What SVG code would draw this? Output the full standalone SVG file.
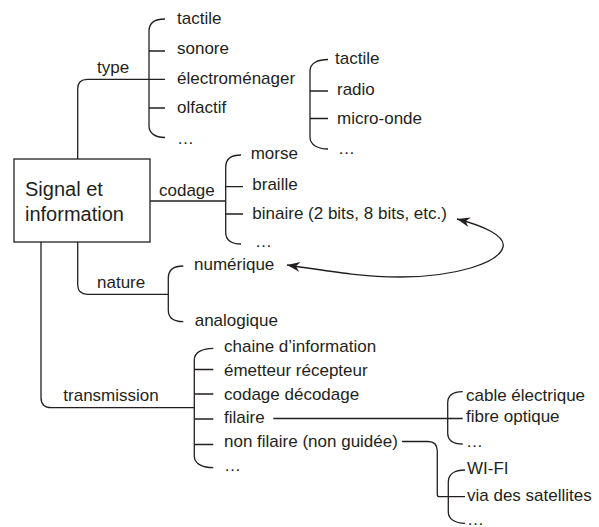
<svg xmlns="http://www.w3.org/2000/svg" width="599" height="527" viewBox="0 0 599 527">
  <style>
    text { font-family: "Liberation Sans", Arial, sans-serif; font-size: 17px; fill: #231f20; }
    .title { font-size: 20px; }
    .ln { fill: none; stroke: #231f20; stroke-width: 1.3; }
    .box { fill: #ffffff; stroke: #231f20; stroke-width: 1.3; }
  </style>
  <defs>
    <marker id="stealth" viewBox="-14 -6 15 12" refX="0" refY="0" markerWidth="15" markerHeight="12" markerUnits="userSpaceOnUse" orient="auto-start-reverse">
      <path d="M0,0 L-13,-5 L-9,0 L-13,5 Z" fill="#231f20"/>
    </marker>
  </defs>
  <rect width="599" height="527" fill="#ffffff"/>

  <!-- connectors -->
  <g id="connectors">
    <!-- type -->
    <path class="ln" d="M77.7,159 V89 Q77.7,79.3 87.5,79.3 H165"/>
    <path class="ln" d="M165,19 C155,19 149,23 149,31 V126 C149,133 155,137.5 165,137.5"/>
    <path class="ln" d="M149,51 H165 M149,108 H165"/>
    <!-- électroménager -->
    <path class="ln" d="M328,59.5 C318,59.5 310,63 310,71 V137 C310,145 318,149 328,149"/>
    <path class="ln" d="M310,91 H328 M310,118.5 H328"/>
    <!-- codage -->
    <path class="ln" d="M150,201 H225.7"/>
    <path class="ln" d="M241,155 C231,155 225.7,159 225.7,167 V232 C225.7,240 231,244 241,244"/>
    <path class="ln" d="M225.7,186.7 H243 M225.7,214 H243"/>
    <!-- nature -->
    <path class="ln" d="M77.7,242 V284.5 Q77.7,294.3 87.5,294.3 H168.3"/>
    <path class="ln" d="M183.3,266 C174,266 168.3,270 168.3,278 V310 C168.3,318 174,321.7 183.3,321.7"/>
    <!-- transmission -->
    <path class="ln" d="M41,242 V397.5 Q41,407.7 51.5,407.7 H194.3"/>
    <path class="ln" d="M213.3,348.3 C203,348.3 194.3,352 194.3,360 V456 C194.3,464 203,467.7 213.3,467.7"/>
    <path class="ln" d="M194.3,369.5 H213.3 M194.3,394 H213.3 M194.3,419 H213.3 M194.3,444.5 H213.3"/>
    <!-- filaire -->
    <path class="ln" d="M273.3,418.5 H462.7"/>
    <path class="ln" d="M462.7,391.7 C454,391.7 447.7,395 447.7,403 V433 C447.7,441 454,444 462.7,444"/>
    <!-- non filaire -->
    <path class="ln" d="M402,441.5 H428 Q437.3,441.5 437.3,451 V494.7 Q437.3,496.7 439.3,496.7 H465"/>
    <path class="ln" d="M465,470 C455,470 448.3,474 448.3,482 V512 C448.3,519 455,523.3 465,523.3"/>
    <!-- binaire / numérique -->
    <path class="ln" d="M457,219 C484,226 506,236 503,247 C499,263 455,277 400,277 C360,277 322,270 287,265" marker-start="url(#stealth)" marker-end="url(#stealth)"/>
  </g>

  <g id="signal-information">
    <rect class="box" x="14" y="159" width="136" height="83"/>
    <text class="title" x="25" y="195.5">Signal et</text>
    <text class="title" x="25" y="221">information</text>
  </g>

  <g id="type">
    <text x="97" y="73">type</text>
    <text x="177" y="24">tactile</text>
    <text x="177" y="54">sonore</text>
    <text x="177" y="83.5">électroménager</text>
    <text x="177" y="113">olfactif</text>
    <text x="177" y="144">…</text>
  </g>

  <g id="electromenager">
    <text x="335" y="64">tactile</text>
    <text x="337" y="94.5">radio</text>
    <text x="337" y="124">micro-onde</text>
    <text x="338" y="153.5">…</text>
  </g>

  <g id="codage">
    <text x="159" y="195.5">codage</text>
    <text x="250.7" y="158.5">morse</text>
    <text x="252.3" y="189.5">braille</text>
    <text x="252.3" y="218.5">binaire (2 bits, 8 bits, etc.)</text>
    <text x="255" y="246.5">…</text>
  </g>

  <g id="nature">
    <text x="97" y="288.3">nature</text>
    <text x="194" y="270">numérique</text>
    <text x="194.7" y="326">analogique</text>
  </g>

  <g id="transmission">
    <text x="63.3" y="401">transmission</text>
    <text x="224" y="352">chaine d’information</text>
    <text x="224" y="375.5">émetteur récepteur</text>
    <text x="224" y="399.5">codage décodage</text>
    <text x="224" y="423">filaire</text>
    <text x="224" y="447">non filaire (non guidée)</text>
    <text x="224" y="471">…</text>
  </g>

  <g id="filaire">
    <text x="466" y="401">cable électrique</text>
    <text x="466" y="422">fibre optique</text>
    <text x="466" y="447">…</text>
  </g>

  <g id="non-filaire">
    <text x="467" y="474">WI-FI</text>
    <text x="467" y="501">via des satellites</text>
    <text x="467" y="524.5">…</text>
  </g>
</svg>
